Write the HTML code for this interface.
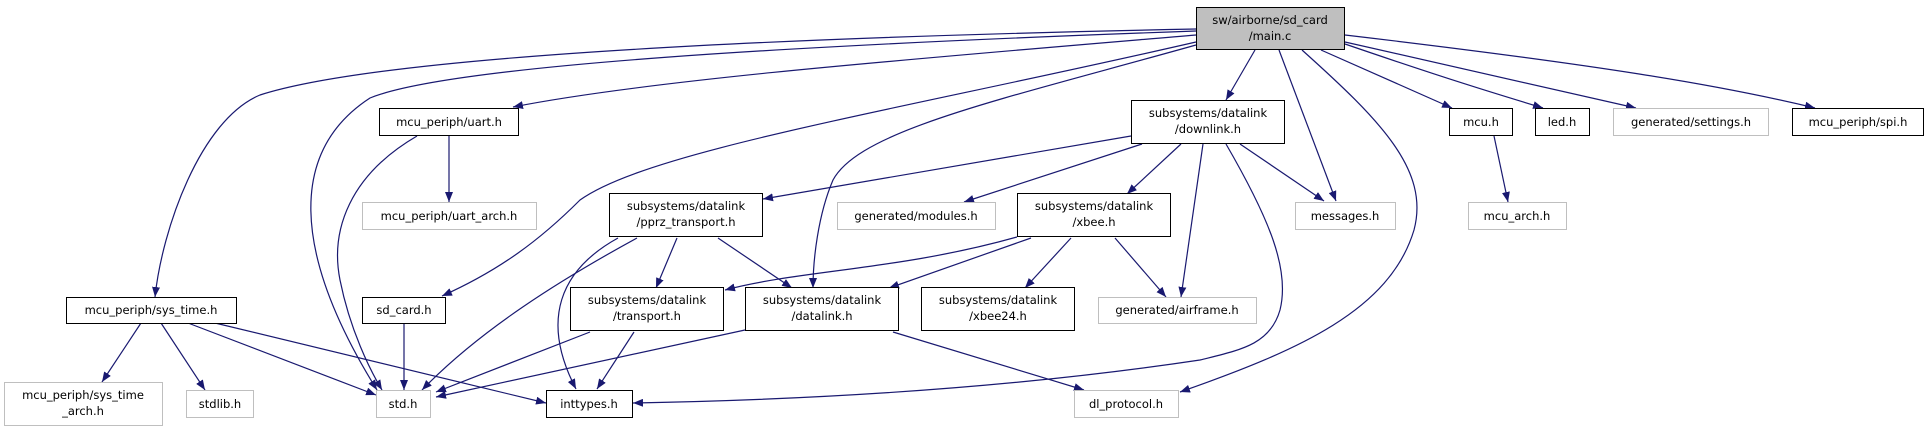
<!DOCTYPE html>
<html><head><meta charset="utf-8"><style>
body{margin:0;background:#fff;}
svg{display:block;}
text{font-family:"DejaVu Sans","Liberation Sans",sans-serif;font-size:11.5px;fill:#000;}
</style></head><body>
<svg width="1928" height="429" viewBox="0 0 1928 429" xmlns="http://www.w3.org/2000/svg">
<defs>
<marker id="a" viewBox="0 0 10 8" refX="10" refY="4" markerWidth="10" markerHeight="8" markerUnits="userSpaceOnUse" orient="auto">
<path d="M0,0 L10,4 L0,8 z" fill="#191970"/>
</marker>
</defs>
<g fill="none" stroke="#191970" stroke-width="1.2" marker-end="url(#a)">
<path d="M1196,29 C900,35 400,50 260,95 C200,120 162,230 155,297"/>
<path d="M1196,31 C800,45 450,65 370,98 C290,150 290,250 377,390"/>
<path d="M1196,35 C900,60 650,80 513,107"/>
<path d="M1196,42 C900,110 650,150 580,200 C540,240 500,270 442,296"/>
<path d="M1196,45 C1000,100 860,130 833,180 C818,215 813,260 813,288"/>
<path d="M1255,50 L1226,100"/>
<path d="M1279,50 L1336,201"/>
<path d="M1302,50 C1380,120 1430,170 1414,230 C1390,310 1300,350 1180,392"/>
<path d="M1321,50 L1452,108"/>
<path d="M1345,44 C1450,80 1500,95 1543,108"/>
<path d="M1345,42 L1636,108"/>
<path d="M1345,35 C1600,65 1720,85 1815,108"/>
<path d="M1131,136 L763,199"/>
<path d="M1142,144 L964,202"/>
<path d="M1181,144 L1127,194"/>
<path d="M1203,144 L1181,297"/>
<path d="M1226,144 C1270,220 1290,270 1280,310 C1270,345 1240,350 1200,360 C1000,390 800,400 633,403"/>
<path d="M1240,144 L1324,201"/>
<path d="M618,238 C560,270 540,320 576,389"/>
<path d="M637,238 C560,280 480,330 422,390"/>
<path d="M677,238 L656,288"/>
<path d="M718,238 L792,288"/>
<path d="M1017,237 C900,270 800,270 725,290"/>
<path d="M1031,238 L889,288"/>
<path d="M1071,238 L1025,288"/>
<path d="M1115,238 L1166,297"/>
<path d="M590,332 L436,392"/>
<path d="M634,332 L597,389"/>
<path d="M745,330 L436,397"/>
<path d="M893,332 L1084,390"/>
<path d="M449,136 L449,202"/>
<path d="M417,136 C350,175 330,230 340,280 C350,330 370,370 382,390"/>
<path d="M404,323 L404,390"/>
<path d="M141,323 L102,382"/>
<path d="M161,323 L205,390"/>
<path d="M188,323 L376,395"/>
<path d="M215,323 L546,403"/>
<path d="M1494,136 L1508,202"/>
</g>
<g stroke-width="1">
<rect x="1196.5" y="7.5" width="148" height="42" fill="#bfbfbf" stroke="#000"/>
<rect x="1131.5" y="100.5" width="153" height="43" fill="#fff" stroke="#000"/>
<rect x="379.5" y="108.5" width="139" height="27" fill="#fff" stroke="#000"/>
<rect x="362.5" y="202.5" width="174" height="27" fill="#fff" stroke="#bfbfbf"/>
<rect x="66.5" y="297.5" width="170" height="26" fill="#fff" stroke="#000"/>
<rect x="362.5" y="297.5" width="83" height="26" fill="#fff" stroke="#000"/>
<rect x="4.5" y="382.5" width="158" height="43" fill="#fff" stroke="#bfbfbf"/>
<rect x="186.5" y="390.5" width="67" height="27" fill="#fff" stroke="#bfbfbf"/>
<rect x="376.5" y="390.5" width="54" height="27" fill="#fff" stroke="#bfbfbf"/>
<rect x="546.5" y="390.5" width="86" height="27" fill="#fff" stroke="#000"/>
<rect x="609.5" y="193.5" width="153" height="43" fill="#fff" stroke="#000"/>
<rect x="570.5" y="287.5" width="153" height="43" fill="#fff" stroke="#000"/>
<rect x="745.5" y="287.5" width="153" height="43" fill="#fff" stroke="#000"/>
<rect x="837.5" y="202.5" width="158" height="27" fill="#fff" stroke="#bfbfbf"/>
<rect x="1017.5" y="193.5" width="153" height="43" fill="#fff" stroke="#000"/>
<rect x="921.5" y="287.5" width="153" height="43" fill="#fff" stroke="#000"/>
<rect x="1098.5" y="297.5" width="158" height="26" fill="#fff" stroke="#bfbfbf"/>
<rect x="1074.5" y="390.5" width="104" height="27" fill="#fff" stroke="#bfbfbf"/>
<rect x="1295.5" y="202.5" width="100" height="27" fill="#fff" stroke="#bfbfbf"/>
<rect x="1449.5" y="108.5" width="63" height="27" fill="#fff" stroke="#000"/>
<rect x="1535.5" y="108.5" width="54" height="27" fill="#fff" stroke="#000"/>
<rect x="1613.5" y="108.5" width="155" height="27" fill="#fff" stroke="#bfbfbf"/>
<rect x="1792.5" y="108.5" width="131" height="27" fill="#fff" stroke="#000"/>
<rect x="1468.5" y="202.5" width="98" height="27" fill="#fff" stroke="#bfbfbf"/>
</g>
<g text-anchor="middle">
<text x="1270" y="24">sw/airborne/sd_card</text><text x="1270" y="40">/main.c</text>
<text x="1208" y="117">subsystems/datalink</text><text x="1208" y="133">/downlink.h</text>
<text x="449" y="126">mcu_periph/uart.h</text>
<text x="449" y="220">mcu_periph/uart_arch.h</text>
<text x="151" y="314">mcu_periph/sys_time.h</text>
<text x="404" y="314">sd_card.h</text>
<text x="83" y="399">mcu_periph/sys_time</text><text x="83" y="415">_arch.h</text>
<text x="220" y="408">stdlib.h</text>
<text x="403" y="408">std.h</text>
<text x="589" y="408">inttypes.h</text>
<text x="686" y="210">subsystems/datalink</text><text x="686" y="226">/pprz_transport.h</text>
<text x="647" y="304">subsystems/datalink</text><text x="647" y="320">/transport.h</text>
<text x="822" y="304">subsystems/datalink</text><text x="822" y="320">/datalink.h</text>
<text x="916" y="220">generated/modules.h</text>
<text x="1094" y="210">subsystems/datalink</text><text x="1094" y="226">/xbee.h</text>
<text x="998" y="304">subsystems/datalink</text><text x="998" y="320">/xbee24.h</text>
<text x="1177" y="314">generated/airframe.h</text>
<text x="1126" y="408">dl_protocol.h</text>
<text x="1345" y="220">messages.h</text>
<text x="1481" y="126">mcu.h</text>
<text x="1562" y="126">led.h</text>
<text x="1691" y="126">generated/settings.h</text>
<text x="1858" y="126">mcu_periph/spi.h</text>
<text x="1517" y="220">mcu_arch.h</text>
</g>
</svg>
</body></html>
